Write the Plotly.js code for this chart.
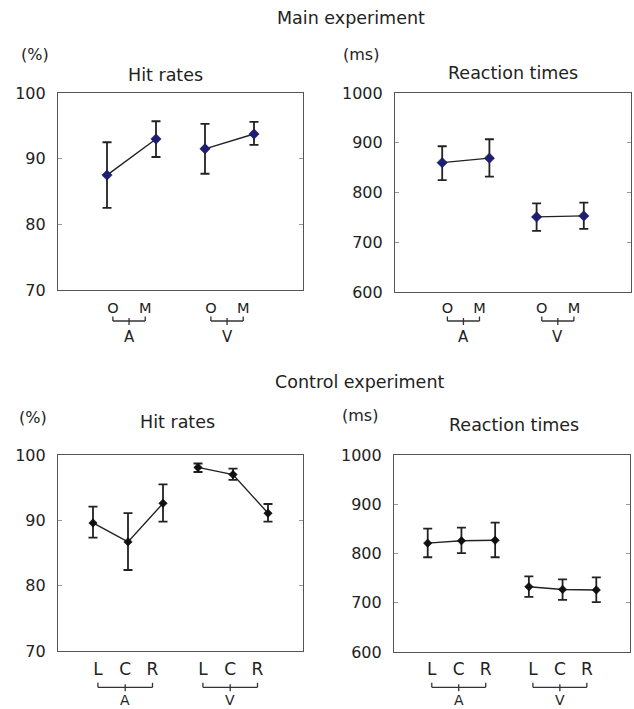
<!DOCTYPE html>
<html>
<head>
<meta charset="utf-8">
<script src="https://cdn.plot.ly/plotly-3.0.1.min.js"></script>
<style>html,body{margin:0;padding:0;background:#fff;overflow:hidden}</style>
</head>
<body>
<div id="chart" style="width:634px;height:709px"></div>
<script>
// ---------- DATA ----------
// Main experiment: conditions O, M for groups A and V
var mainTicks = ["O", "M"];
var groups = ["A", "V"];
var mainHitMean  = [[87.5, 93.0], [91.5, 93.75]];
var mainHitUpper = [[92.5, 95.7], [95.3, 95.6]];
var mainHitLower = [[82.5, 90.25], [87.7, 92.1]];

var mainRtMean  = [[860, 869], [751, 753]];
var mainRtUpper = [[893, 907], [778, 779.5]];
var mainRtLower = [[825, 832], [723, 727]];

// Control experiment: L, C, R for groups A and V
var ctrlTicks = ["L", "C", "R"];
var ctrlHitMean  = [[89.6, 86.7, 92.6], [98.1, 97.0, 91.1]];
var ctrlHitUpper = [[92.1, 91.1, 95.5], [98.7, 97.9, 92.5]];
var ctrlHitLower = [[87.35, 82.4, 89.8], [97.4, 96.2, 89.8]];

var ctrlRtMean  = [[821, 826, 827], [732.6, 727, 726]];
var ctrlRtUpper = [[850.4, 852.4, 862.6], [753.7, 747.6, 751.6]];
var ctrlRtLower = [[792.4, 800.6, 792.4], [712, 706, 701.4]];

var hitTicks = [70, 80, 90, 100];
var rtTicks = [600, 700, 800, 900, 1000];

// ---------- LAYOUT HELPERS ----------
var W = 634, H = 709;
function px(x) { return x / W; }
function py(y) { return 1 - y / H; }
var FONT = "DejaVu Sans, Liberation Sans, Arial, sans-serif";
var TXT = "#222";

var traces = [];
var shapes = [];
var annotations = [];
var layout = {
  width: W, height: H,
  margin: {l: 0, r: 0, t: 0, b: 0},
  paper_bgcolor: "#fff", plot_bgcolor: "#fff",
  showlegend: false,
  font: {family: FONT, color: TXT}
};

function addPanel(opt) {
  var n = opt.mean[0].length;
  var xa = "x" + opt.id, ya = "y" + opt.id;
  var xaKey = "xaxis" + opt.id, yaKey = "yaxis" + opt.id;
  var tickvals = [], ticktext = [];
  for (var g = 0; g < opt.mean.length; g++) {
    var xs = [];
    for (var i = 0; i < n; i++) xs.push(g * n + i);
    var up = [], dn = [];
    for (var i = 0; i < n; i++) {
      up.push(opt.upper[g][i] - opt.mean[g][i]);
      dn.push(opt.mean[g][i] - opt.lower[g][i]);
    }
    traces.push({
      type: "scatter", mode: "lines+markers",
      x: xs, y: opt.mean[g], xaxis: xa, yaxis: ya,
      line: {color: "#222", width: 1.4},
      marker: {symbol: "diamond", size: opt.msize, color: opt.mcolor,
               line: {color: opt.mline, width: 0.5}},
      error_y: {type: "data", symmetric: false, array: up, arrayminus: dn,
                color: "#222", thickness: 1.8, width: 4.5},
      hoverinfo: "skip"
    });
    var c = g * n + (n - 1) / 2 + opt.labShift;
    var lp = [];
    for (var i = 0; i < n; i++) {
      var v = c + (i - (n - 1) / 2) * opt.labStep;
      lp.push(v); tickvals.push(v); ticktext.push(opt.ticks[i]);
    }
    var left = lp[0], right = lp[n - 1];
    var sc = {type: "line", xref: xa, yref: "paper", line: {color: "#333", width: 1.3}};
    shapes.push(Object.assign({}, sc, {x0: left, x1: right, y0: py(opt.brY), y1: py(opt.brY)}));
    shapes.push(Object.assign({}, sc, {x0: left, x1: left, y0: py(opt.brY), y1: py(opt.brY - 4.5)}));
    shapes.push(Object.assign({}, sc, {x0: right, x1: right, y0: py(opt.brY), y1: py(opt.brY - 4.5)}));
    shapes.push(Object.assign({}, sc, {x0: c, x1: c, y0: py(opt.brY - 3), y1: py(opt.brY + 4)}));
    var ann = {xref: xa, yref: "paper", x: c, text: groups[g],
      showarrow: false, xanchor: "center", borderpad: 0,
      font: {family: FONT, size: opt.grpSize, color: TXT}};
    if (opt.grpBottom) { ann.y = 0; ann.yanchor = "bottom"; }
    else { ann.y = py(opt.grpY); ann.yanchor = "middle"; }
    annotations.push(ann);
  }
  layout[xaKey] = {
    domain: [px(opt.box[0]), px(opt.box[1])], anchor: ya,
    range: opt.xrange, showgrid: false, zeroline: false,
    showline: true, mirror: true, linecolor: "#555", linewidth: 1.1,
    ticks: "", tickvals: tickvals, ticktext: ticktext,
    ticklabelstandoff: opt.xStandoff,
    tickfont: {family: FONT, size: opt.xTickSize, color: TXT}
  };
  layout[yaKey] = {
    domain: [py(opt.box[3]), py(opt.box[2])], anchor: xa,
    range: opt.yrange, showgrid: false, zeroline: false,
    showline: true, mirror: "ticks", linecolor: "#555", linewidth: 1.1,
    ticks: "inside", ticklen: 4, tickcolor: "#999", tickwidth: 1,
    tickvals: opt.yticks, ticklabelstandoff: 8,
    tickfont: {family: FONT, size: 16, color: TXT}
  };
  annotations.push({xref: "paper", yref: "paper", x: px(opt.unitPos[0]), y: py(opt.unitPos[1]),
    text: opt.unit, showarrow: false, xanchor: "center", yanchor: "middle",
    font: {family: FONT, size: 16, color: TXT}});
  annotations.push({xref: "paper", yref: "paper", x: px(opt.titlePos[0]), y: py(opt.titlePos[1]),
    text: opt.title, showarrow: false, xanchor: "center", yanchor: "middle",
    font: {family: FONT, size: 17.5, color: TXT}});
}

var navy = "#1e1e72";
addPanel({id: "", box: [58, 303, 93, 290], xrange: [-1, 4], yrange: [70, 100], yticks: hitTicks,
  mean: mainHitMean, upper: mainHitUpper, lower: mainHitLower, ticks: mainTicks,
  msize: 8, mcolor: navy, mline: "#15154a",
  labShift: -0.05, labStep: 0.66, xStandoff: 4, xTickSize: 14.5,
  brY: 321, grpY: 336.5, grpSize: 15,
  unit: "(%)", unitPos: [35, 55], title: "Hit rates", titlePos: [165, 75]});
addPanel({id: "2", box: [395, 631, 93, 292], xrange: [-1, 4], yrange: [600, 1000], yticks: rtTicks,
  mean: mainRtMean, upper: mainRtUpper, lower: mainRtLower, ticks: mainTicks,
  msize: 8, mcolor: navy, mline: "#15154a",
  labShift: -0.05, labStep: 0.68, xStandoff: 2, xTickSize: 14.5,
  brY: 321, grpY: 336.5, grpSize: 15,
  unit: "(ms)", unitPos: [361, 55], title: "Reaction times", titlePos: [513, 73]});
addPanel({id: "3", box: [58, 303, 455, 651], xrange: [-1, 6], yrange: [70, 100], yticks: hitTicks,
  mean: ctrlHitMean, upper: ctrlHitUpper, lower: ctrlHitLower, ticks: ctrlTicks,
  msize: 6.5, mcolor: "#111", mline: "#000",
  labShift: -0.08, labStep: 0.78, xStandoff: 2, xTickSize: 17,
  brY: 687.3, grpBottom: true, grpSize: 14,
  unit: "(%)", unitPos: [33, 417], title: "Hit rates", titlePos: [177, 422]});
addPanel({id: "4", box: [394, 630, 455, 652], xrange: [-1, 6], yrange: [600, 1000], yticks: rtTicks,
  mean: ctrlRtMean, upper: ctrlRtUpper, lower: ctrlRtLower, ticks: ctrlTicks,
  msize: 6.5, mcolor: "#111", mline: "#000",
  labShift: -0.08, labStep: 0.8, xStandoff: 1, xTickSize: 17,
  brY: 687.3, grpBottom: true, grpSize: 14,
  unit: "(ms)", unitPos: [360, 415], title: "Reaction times", titlePos: [514, 425]});

annotations.push({xref: "paper", yref: "paper", x: px(351), y: py(18), text: "Main experiment",
  showarrow: false, xanchor: "center", yanchor: "middle", font: {family: FONT, size: 17.5, color: TXT}});
annotations.push({xref: "paper", yref: "paper", x: px(359), y: py(382), text: "Control experiment",
  showarrow: false, xanchor: "center", yanchor: "middle", font: {family: FONT, size: 17.5, color: TXT}});

layout.shapes = shapes;
layout.annotations = annotations;

Plotly.newPlot("chart", traces, layout, {displayModeBar: false, staticPlot: true});
</script>
</body>
</html>
